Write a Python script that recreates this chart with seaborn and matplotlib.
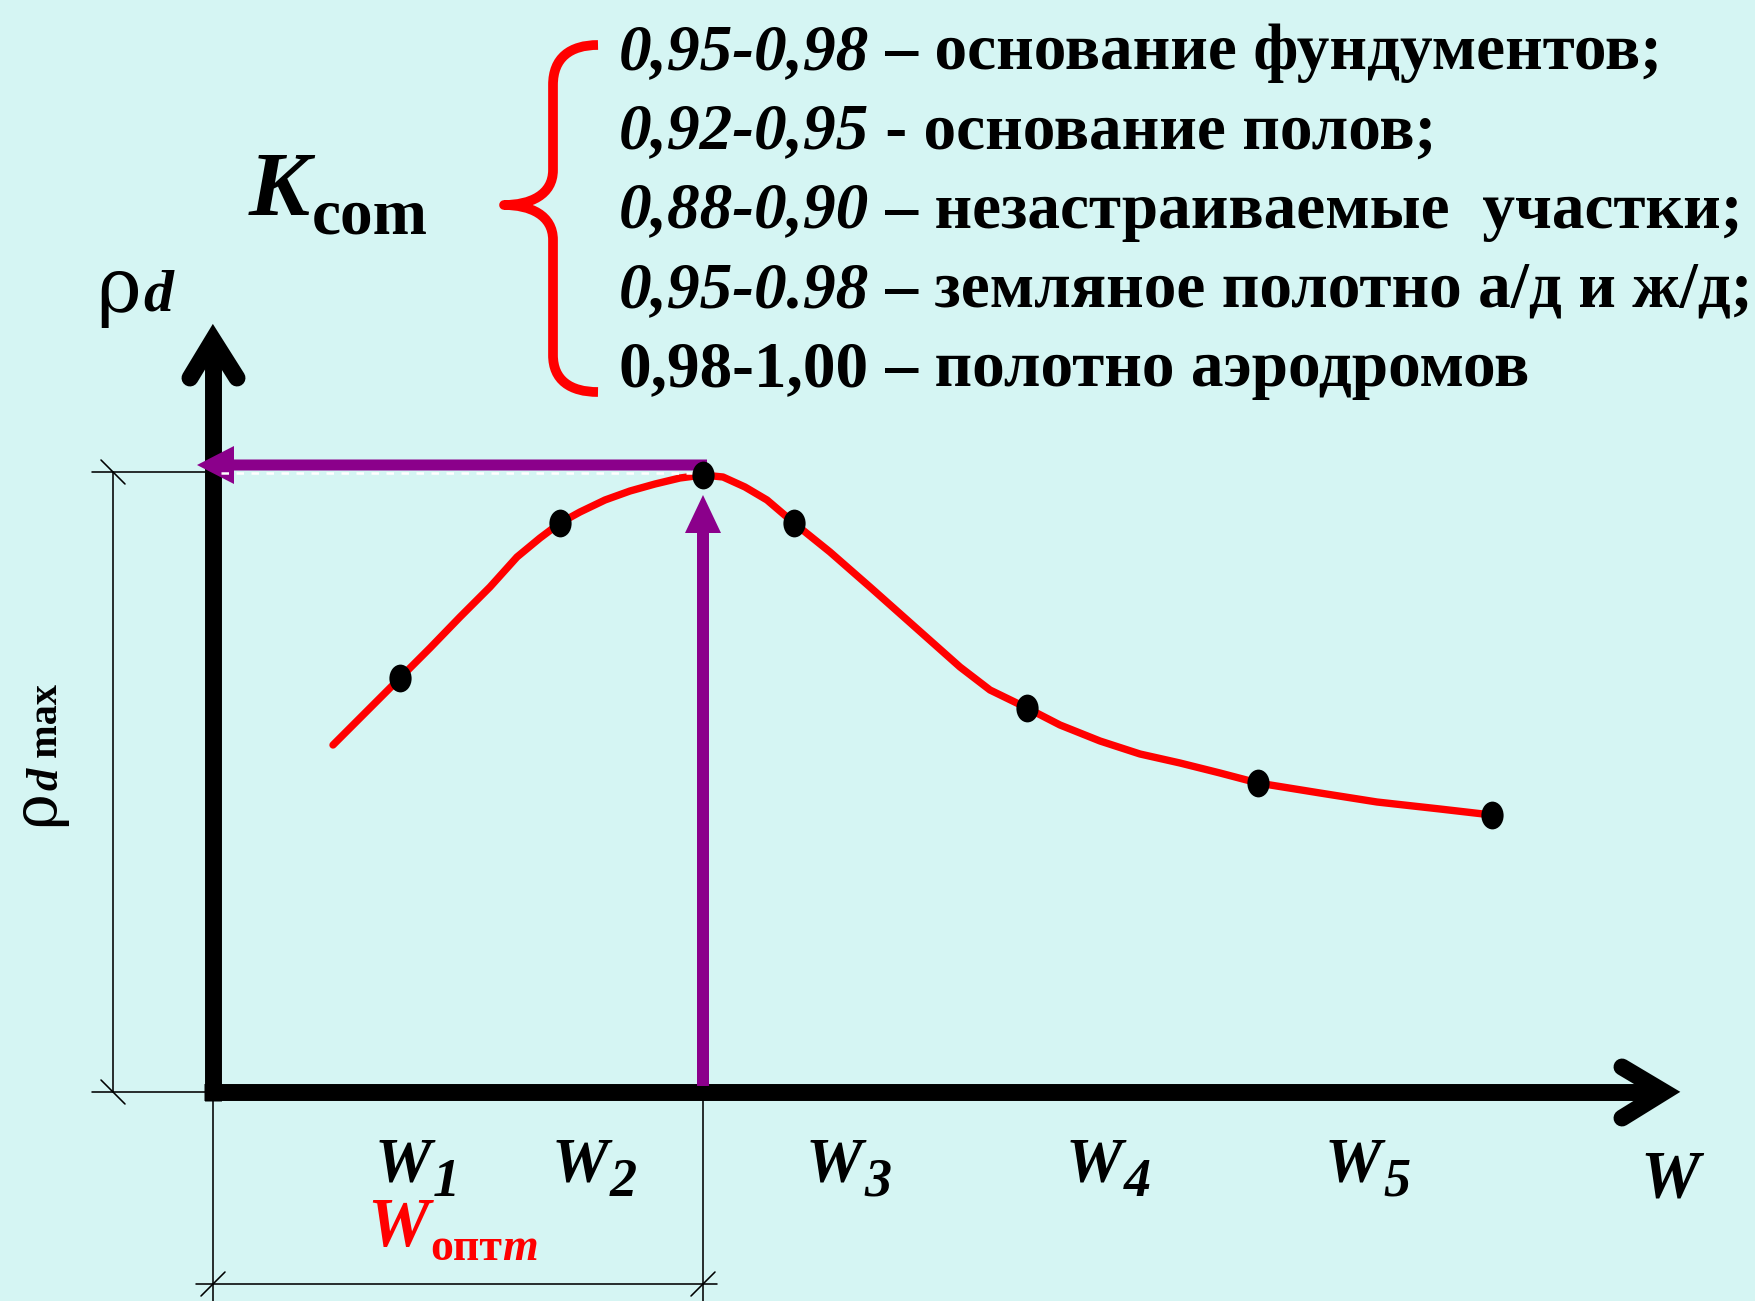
import numpy as np
import matplotlib
matplotlib.use('Agg')
import matplotlib.pyplot as plt
import matplotlib.transforms as mtransforms
from matplotlib.path import Path
from matplotlib.patches import PathPatch
import seaborn as sns

# Compaction curve: moisture W and dry density rho_d
# (conventional units, origin at the axes corner)
w_curve = [1.20, 1.87, 2.17, 2.47, 2.77, 3.04, 3.27, 3.47, 3.67, 3.92, 4.17, 4.42,
           4.67, 4.90, 5.10, 5.32, 5.54, 5.81, 6.17, 6.57, 7.02, 7.47, 7.77, 8.14,
           8.47, 8.87, 9.27, 9.67, 10.07, 10.45, 11.07, 11.64, 12.27, 12.79]
rho_curve = [3.47, 4.14, 4.44, 4.75, 5.05, 5.35, 5.54, 5.69, 5.80, 5.92, 6.01, 6.08,
             6.14, 6.17, 6.15, 6.05, 5.92, 5.69, 5.40, 5.05, 4.65, 4.25, 4.02, 3.84,
             3.67, 3.51, 3.38, 3.29, 3.19, 3.09, 2.99, 2.90, 2.83, 2.77]

# test points (black dots)
w_points = [1.87, 3.47, 4.90, 5.81, 8.14, 10.45, 12.79]
rho_points = [4.14, 5.69, 6.17, 5.69, 3.84, 3.09, 2.77]

# W tick labels under the axis
w_labels = ['1', '2', '3', '4', '5']
w_label_x = [1.62, 3.39, 5.93, 8.53, 11.12]

# compaction coefficient list
k_ranges = ['0,95-0,98', '0,92-0,95', '0,88-0,90', '0,95-0.98', '0,98-1,00']
k_desc = [' – основание фундументов;', ' - основание полов;',
          ' – незастраиваемые  участки;', ' – земляное полотно а/д и ж/д;',
          ' – полотно аэродромов']
k_italic = [True, True, True, True, False]

BG = '#D5F5F3'
PURPLE = '#8B008B'
RED = '#FF0000'
W_PX, H_PX = 1756, 1301
OX, OY = 213, 1092          # pixel position of the axes corner

sns.set_theme(style='white')
plt.rcParams['font.family'] = ['Liberation Serif', 'DejaVu Serif']
plt.rcParams['text.color'] = 'black'

fig = plt.figure(figsize=(W_PX / 100, H_PX / 100), dpi=100, facecolor=BG)
ax = fig.add_axes([0, 0, 1, 1])
ax.set_facecolor(BG)
ax.set_xlim(-OX / 100, (W_PX - OX) / 100)
ax.set_ylim(-(H_PX - OY) / 100, OY / 100)
ax.axis('off')

# pixel (top-left origin) transform for layout elements
canvas = mtransforms.Affine2D().scale(1 / W_PX, -1 / H_PX).translate(0, 1) + fig.transFigure

# thick axes with open arrow heads
axis_lw = 12.2
y_top = 7.52
x_end = 14.51
ax.plot([0, 0], [-0.085, y_top - 0.07], color='black', lw=axis_lw, solid_capstyle='butt')
ax.plot([-0.085, x_end - 0.07], [0, 0], color='black', lw=axis_lw, solid_capstyle='butt')
ax.plot([-0.23, 0, 0.24], [y_top - 0.38, y_top, y_top - 0.38], color='black', lw=axis_lw,
        solid_capstyle='round', solid_joinstyle='miter')
ax.plot([x_end - 0.42, x_end, x_end - 0.42], [0.25, 0, -0.26], color='black', lw=axis_lw,
        solid_capstyle='round', solid_joinstyle='miter')

# compaction curve and points
sns.lineplot(x=w_curve, y=rho_curve, sort=False, estimator=None, color=RED,
             linewidth=5.3, ax=ax, zorder=3, solid_joinstyle='round')
circ = Path.unit_circle()
ellipse = Path(circ.vertices * np.array([0.8, 1.0]), circ.codes)
sns.scatterplot(x=w_points, y=rho_points, color='black', s=400, marker=ellipse,
                linewidth=0, ax=ax, zorder=6)

# optimum point
i_opt = int(np.argmax(rho_points))
w_opt, rho_max = w_points[i_opt], rho_points[i_opt]

# thin dimension lines
thin = dict(color='black', lw=1.15)
lvl = rho_max + 0.03
ax.plot([-1.21, -0.08], [lvl, lvl], **thin)
ax.plot([-1.21, -0.08], [0, 0], **thin)
ax.plot([-1.00, -1.00], [0, lvl], **thin)
ax.plot([-1.12, -0.88], [lvl + 0.12, lvl - 0.12], **thin)
ax.plot([-1.12, -0.88], [0.12, -0.12], **thin)
ax.plot([0, 0], [-0.08, -2.09], **thin)
ax.plot([w_opt, w_opt], [0, -2.09], **thin)
ax.plot([-0.17, w_opt + 0.14], [-1.92, -1.92], **thin)
ax.plot([-0.12, 0.12], [-2.04, -1.80], **thin)
ax.plot([w_opt - 0.12, w_opt + 0.12], [-2.04, -1.80], **thin)
ax.plot([0.08, w_opt - 0.08], [lvl - 0.01, lvl - 0.01], color='white', lw=1.8,
        ls=(0, (3, 3)), zorder=5)

# purple arrows from the optimum
ax.arrow(w_opt + 0.04, rho_max + 0.10, -(w_opt + 0.04 + 0.16), 0, width=0.11,
         head_width=0.38, head_length=0.37, length_includes_head=True,
         color=PURPLE, lw=0, zorder=4)
ax.arrow(w_opt, 0.06, 0, rho_max - 0.20 - 0.06, width=0.12, head_width=0.36,
         head_length=0.38, length_includes_head=True, color=PURPLE, lw=0, zorder=4)


def chain(prev, s, dx=0, dy=0, **kw):
    """Write text s right after the text artist prev, shifted by (dx, dy) points."""
    return ax.annotate(s, xy=(1, 0), xycoords=prev, xytext=(dx, dy),
                       textcoords='offset points', va='bottom', ha='left', **kw)


# K_com
k = ax.text(249, 215, 'K', transform=canvas, fontsize=66, fontweight='bold',
            fontstyle='italic', va='baseline', ha='left')
chain(k, 'com', 1, -10, fontsize=47, fontweight='bold')

# rho_d at the top of the vertical axis
rho = ax.text(96, 312, 'ρ', transform=canvas, fontsize=55, family=['DejaVu Serif'],
              va='baseline', ha='left')
chain(rho, 'd', 2, 3, fontsize=43, fontweight='bold', fontstyle='italic')

# rotated rho_d max dimension label
r1 = ax.text(66, 826, 'ρ', transform=canvas, fontsize=44, family=['DejaVu Serif'],
             rotation=90, va='bottom', ha='right')
r2 = ax.annotate('d', xy=(1, 1), xycoords=r1, xytext=(0, 0), textcoords='offset points',
                 rotation=90, va='bottom', ha='right', fontsize=32, fontweight='bold',
                 fontstyle='italic')
ax.annotate(' max', xy=(1, 1), xycoords=r2, xytext=(0, 0), textcoords='offset points',
            rotation=90, va='bottom', ha='right', fontsize=29, fontweight='bold')

# W tick labels
for lab, xl in zip(w_labels, w_label_x):
    wt = ax.text(xl, -0.89, 'W', fontsize=46, fontweight='bold', fontstyle='italic',
                 va='baseline', ha='left')
    chain(wt, lab, 1, -9, fontsize=39, fontweight='bold', fontstyle='italic')
ax.text(1640, 1196, 'W', transform=canvas, fontsize=48, fontweight='bold',
        fontstyle='italic', va='baseline', ha='left')

# W_optm
wo = ax.text(367, 1246, 'W', transform=canvas, fontsize=50, color=RED,
             fontweight='bold', fontstyle='italic', va='baseline', ha='left')
so = chain(wo, 'опт', 1, -6.5, fontsize=33, color=RED, fontweight='bold')
ax.annotate('m', xy=(1, 0), xycoords=so, va='bottom', ha='left', fontsize=33,
            color=RED, fontweight='bold', fontstyle='italic')

# red brace
brace = Path([(598, 45), (570, 45), (553, 58), (553, 85),
              (553, 170),
              (553, 195), (530, 205), (504, 205),
              (530, 205), (553, 215), (553, 240),
              (553, 355),
              (553, 380), (570, 392), (598, 392)],
             [Path.MOVETO, Path.CURVE4, Path.CURVE4, Path.CURVE4,
              Path.LINETO,
              Path.CURVE4, Path.CURVE4, Path.CURVE4,
              Path.CURVE4, Path.CURVE4, Path.CURVE4,
              Path.LINETO,
              Path.CURVE4, Path.CURVE4, Path.CURVE4])
ax.add_patch(PathPatch(brace, transform=canvas, fill=False, edgecolor=RED, lw=7,
                       capstyle='butt', joinstyle='round'))

# coefficient list
for i, (rng, desc, ital) in enumerate(zip(k_ranges, k_desc, k_italic)):
    yb = 69 + 79.3 * i
    t = ax.text(619, yb, rng, transform=canvas, fontsize=47, fontweight='bold',
                fontstyle='italic' if ital else 'normal', va='baseline', ha='left')
    ax.annotate(desc, xy=(1, 0), xycoords=t, fontsize=47, fontweight='bold',
                va='bottom', ha='left')

fig.savefig('out.png', dpi=100, facecolor=BG)
